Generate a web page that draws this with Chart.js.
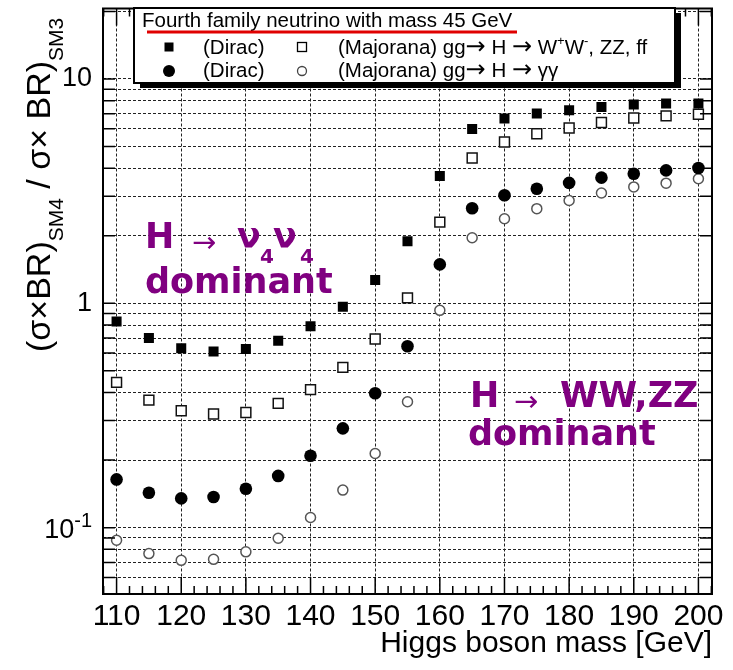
<!DOCTYPE html>
<html><head><meta charset="utf-8">
<script src="https://cdn.jsdelivr.net/npm/chart.js@4.4.1/dist/chart.umd.min.js"></script>
<style>html,body{margin:0;padding:0;background:#fff}#wrap{width:733px;height:670px;position:relative}</style>
</head><body><div id="wrap"><canvas id="c" width="733" height="670"></canvas></div>
<script>
// ---- data ----
const masses = [110,115,120,125,130,135,140,145,150,155,160,165,170,175,180,185,190,195,200];
const diracWW = [0.83,0.70,0.63,0.61,0.625,0.68,0.79,0.965,1.27,1.89,3.69,5.98,6.66,7.01,7.25,7.50,7.69,7.77,7.77];
const majoranaWW = [0.444,0.370,0.332,0.321,0.326,0.358,0.412,0.518,0.693,1.057,2.30,4.44,5.23,5.70,6.04,6.39,6.70,6.84,6.96];
const diracGG = [0.164,0.143,0.135,0.137,0.149,0.170,0.209,0.277,0.397,0.643,1.49,2.65,3.03,3.24,3.44,3.63,3.78,3.91,4.01];
const majoranaGG = [0.0879,0.0766,0.0715,0.0722,0.078,0.0897,0.111,0.147,0.214,0.364,0.93,1.96,2.38,2.64,2.87,3.10,3.30,3.43,3.59];
const xTicks = [110,120,130,140,150,160,170,180,190,200];
const yTicks = [0.06,0.07,0.08,0.09,0.1,0.2,0.3,0.4,0.5,0.6,0.7,0.8,0.9,1,2,3,4,5,6,7,8,9,10,20];
const yTickLabels = {1:'1', 10:'10'};
const yPowerLabels = [{value:0.1, base:'10', exp:'-1'}];
const legendTitle = 'Fourth family neutrino with mass 45 GeV';
const xTitle = 'Higgs boson mass [GeV]';

const F = '"Liberation Sans", Arial, Helvetica, sans-serif';
const FB = '"DejaVu Sans", sans-serif';
const PURPLE = '#800080';
const ARROW = '\u2192';

function pts(arr){ return masses.map((m,i)=>({x:m, y:arr[i]})); }

function runs(ctx, list, x, y){
  let cx=x;
  list.forEach(r=>{ctx.font=r.f; ctx.fillText(r.t,cx,y+(r.dy||0)); cx+=ctx.measureText(r.t).width;});
  return cx;
}

const frame = {
  id:'frame',
  afterDraw(chart){
    const {ctx, chartArea:a, scales:{x,y}} = chart;
    ctx.save();
    ctx.strokeStyle='#000'; ctx.lineWidth=1.5; ctx.setLineDash([]);
    ctx.beginPath();
    yTicks.forEach(v=>{
      const py = y.getPixelForValue(v);
      ctx.moveTo(a.left,py); ctx.lineTo(a.left+12,py);
      ctx.moveTo(a.right,py); ctx.lineTo(a.right-12,py);
    });
    for(let m=108;m<=202;m+=2){
      const px = x.getPixelForValue(m);
      const L = m%10===0 ? 17 : 8;
      ctx.moveTo(px,a.bottom); ctx.lineTo(px,a.bottom-L);
      ctx.moveTo(px,a.top); ctx.lineTo(px,a.top+L);
    }
    ctx.stroke();
    ctx.lineWidth=2;
    ctx.strokeRect(a.left,a.top,a.right-a.left,a.bottom-a.top);

    // power-of-ten tick labels with superscript
    ctx.fillStyle='#000'; ctx.textBaseline='alphabetic'; ctx.textAlign='right';
    yPowerLabels.forEach(p=>{
      const py=y.getPixelForValue(p.value);
      ctx.font='20px '+F; const ew=ctx.measureText(p.exp).width;
      ctx.fillText(p.exp,92,py-1);
      ctx.font='27px '+F; ctx.fillText(p.base,92-ew,py+10);
    });
    ctx.textAlign='left';

    // y axis title (rotated, with subscripts)
    ctx.save();
    ctx.translate(50,352); ctx.rotate(-Math.PI/2);
    ctx.fillStyle='#000';
    runs(ctx,[{t:'(\u03C3\u00D7BR)',f:'34px '+F},{t:'SM4',f:'21px '+F,dy:13},{t:' / \u03C3\u00D7 BR)',f:'34px '+F},{t:'SM3',f:'21px '+F,dy:13}],0,0);
    ctx.restore();

    // annotations
    ctx.fillStyle=PURPLE;
    const bold = s=>'bold '+s+'px '+FB;
    ctx.font=bold(35); ctx.fillText('H',145,248);
    ctx.font='29px '+FB; ctx.fillText(ARROW,192,252);
    ctx.font=bold(35); ctx.fillText('\u03BD',237,248);
    ctx.font=bold(20); ctx.fillText('4',260,263);
    ctx.font=bold(35); ctx.fillText('\u03BD',273,248);
    ctx.font=bold(20); ctx.fillText('4',300,263);
    ctx.font=bold(35); ctx.fillText('dominant',145,293);

    ctx.font=bold(35); ctx.fillText('H',470,407);
    ctx.font='29px '+FB; ctx.fillText(ARROW,514,411);
    ctx.font=bold(35); ctx.fillText('WW,ZZ',560,407);
    ctx.fillText('dominant',468,445);

    // legend box (ROOT style with shadow)
    const bx=134, by=8, bw=541, bh=75;
    ctx.fillStyle='#000'; ctx.fillRect(bx+6,by+5,bw,bh);
    ctx.fillStyle='#fff'; ctx.fillRect(bx,by,bw,bh);
    ctx.lineWidth=2; ctx.strokeStyle='#000'; ctx.strokeRect(bx,by,bw,bh);
    ctx.fillStyle='#000';
    ctx.font='20.5px '+F; ctx.fillText(legendTitle,142,27);
    ctx.strokeStyle='#e00000'; ctx.lineWidth=3;
    ctx.beginPath(); ctx.moveTo(147,32); ctx.lineTo(517,32); ctx.stroke();
    // markers
    ctx.fillStyle='#000'; ctx.fillRect(169-4.5,47-4.5,9,9);
    ctx.strokeStyle='#000'; ctx.lineWidth=1.3; ctx.strokeRect(302-4.5,47-4.5,9,9);
    ctx.beginPath(); ctx.arc(169,71,6,0,Math.PI*2); ctx.fill();
    ctx.strokeStyle='#444'; ctx.beginPath(); ctx.arc(302,71,4.5,0,Math.PI*2); ctx.stroke();
    // texts
    ctx.fillStyle='#000'; ctx.font='20.5px '+F;
    ctx.fillText(chart.data.datasets[0].label,203,54);
    ctx.fillText(chart.data.datasets[2].label,203,77);
    const T='20.5px '+F, A='24px '+FB, S='13px '+F;
    runs(ctx,[{t:'(Majorana) gg',f:T},{t:ARROW,f:A},{t:' H ',f:T},{t:ARROW,f:A},{t:' W',f:T},{t:'+',f:S,dy:-9},{t:'W',f:T},{t:'-',f:S,dy:-9},{t:', ZZ, ff',f:T}],338,54);
    runs(ctx,[{t:'(Majorana) gg',f:T},{t:ARROW,f:A},{t:' H ',f:T},{t:ARROW,f:A},{t:' \u03B3\u03B3',f:T}],338,77);
    ctx.restore();
  }
};

new Chart(document.getElementById('c'), {
  type:'scatter',
  data:{datasets:[
    {label:'(Dirac)', data:pts(diracWW), pointStyle:'rect', pointRadius:7.1, backgroundColor:'#000', borderColor:'#000', borderWidth:0},
    {label:'(Majorana) gg\u2192 H \u2192 W\u207AW\u207B, ZZ, ff', data:pts(majoranaWW), pointStyle:'rect', pointRadius:7, backgroundColor:'#fff', borderColor:'#111', borderWidth:1.5},
    {label:'(Dirac)', data:pts(diracGG), pointStyle:'circle', pointRadius:6.3, backgroundColor:'#000', borderColor:'#000', borderWidth:0},
    {label:'(Majorana) gg\u2192 H \u2192 \u03B3\u03B3', data:pts(majoranaGG), pointStyle:'circle', pointRadius:5, backgroundColor:'#fff', borderColor:'#555', borderWidth:1.5}
  ]},
  options:{
    responsive:false, animation:false, devicePixelRatio:1,
    layout:{padding:{top:7,right:21,left:0,bottom:0}},
    plugins:{legend:{display:false}, tooltip:{enabled:false}},
    elements:{point:{hoverRadius:0}},
    scales:{
      x:{type:'linear', min:107.9, max:202.1,
        afterBuildTicks:s=>{s.ticks=xTicks.map(v=>({value:v}));},
        afterFit:s=>{s.height=76; s.paddingLeft=0; s.paddingRight=0;},
        ticks:{autoSkip:false, maxRotation:0, padding:5, color:'#000', font:{family:F,size:30}},
        grid:{drawTicks:false, color:'#222', lineWidth:1},
        border:{display:false, dash:[3,2]},
        title:{display:true, text:xTitle, align:'end', color:'#000', font:{family:F,size:30}, padding:{top:0,bottom:8}}
      },
      y:{type:'logarithmic', min:0.0506, max:20.6,
        afterBuildTicks:s=>{s.ticks=yTicks.map(v=>({value:v}));},
        afterFit:s=>{s.width=103; s.paddingTop=0; s.paddingBottom=0;},
        ticks:{autoSkip:false, padding:11, color:'#000', font:{family:F,size:27}, callback:v=>yTickLabels[v]??''},
        grid:{drawTicks:false, color:'#222', lineWidth:1},
        border:{display:false, dash:[3,2]}
      }
    }
  },
  plugins:[frame]
});
</script></body></html>
